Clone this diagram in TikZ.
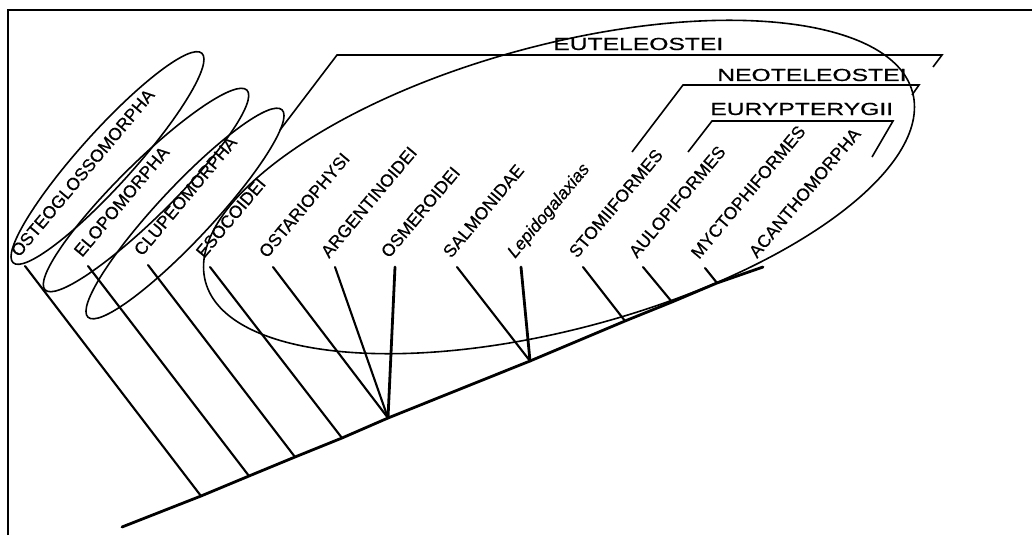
\documentclass[tikz,border=0pt]{standalone}
\usepackage{fontspec}
\setmainfont{Liberation Sans}[FakeBold=0.5]
\usepackage{tikz}
\usetikzlibrary{calc}

\begin{document}
\begin{tikzpicture}[x=1pt,y=-1pt]
    \useasboundingbox (0,0) rectangle (1032,535);

    \tikzstyle{branch} = [line width=2.1pt, line cap=round]
    \tikzstyle{thick branch} = [line width=2.8pt, line cap=round]
    \tikzstyle{ring} = [line width=1.6pt]
    \tikzstyle{bracket} = [line width=1.6pt, line join=miter]
    \tikzstyle{taxon} = [rotate=50, anchor=base west, inner sep=0pt, font=\fontsize{17.5}{20}\selectfont]
    \tikzstyle{clade} = [anchor=base west, inner sep=0pt, xscale=1.41, font=\fontsize{17.5}{20}\selectfont]

    % frame
    \draw[line width=2.2pt] (8,535) -- (8,10) -- (1032,10);

    % tips
    \coordinate (t1) at (25,266);
    \coordinate (t2) at (88,266);
    \coordinate (t3) at (148,265);
    \coordinate (t4) at (210,267);
    \coordinate (t5) at (273,267);
    \coordinate (t6) at (335,267);
    \coordinate (t7) at (395,267);
    \coordinate (t8) at (457,267);
    \coordinate (t9) at (521,267);
    \coordinate (t10) at (583,267);
    \coordinate (t11) at (643,267);
    \coordinate (t12) at (705,268);

    % backbone
    \coordinate (root) at (122,527);
    \coordinate (j1) at (201,496);
    \coordinate (j2) at (249,476);
    \coordinate (j3) at (295,457);
    \coordinate (j4) at (342,438);
    \coordinate (j5) at (388,418);
    \coordinate (j6) at (530,361);
    \coordinate (j7) at (625,321);
    \coordinate (j8) at (672,302);
    \coordinate (j9) at (717,283);
    \coordinate (t13) at (763,267);

    \draw[thick branch] (root) -- (j1) -- (j2) -- (j3) -- (j4) -- (j5) -- (j6) -- (j7) -- (j8) -- (j9) -- (t13);

    \foreach \a/\b in {t1/j1, t2/j2, t3/j3, t4/j4, t5/j5, t6/j5, t8/j6, t10/j7, t11/j8, t12/j9} {
        \draw[branch] (\a) -- (\b);
    }
    \draw[thick branch] (t7) -- (j5);
    \draw[thick branch] (t9) -- (j6);

    \foreach \i/\name in {1/OSTEOGLOSSOMORPHA, 2/ELOPOMORPHA, 3/CLUPEOMORPHA, 4/ESOCOIDEI,
        5/OSTARIOPHYSI, 6/ARGENTINOIDEI, 7/OSMEROIDEI, 8/SALMONIDAE, 9/{\itshape Lepidogalaxias},
        10/STOMIIFORMES, 11/AULOPIFORMES, 12/MYCTOPHIFORMES, 13/ACANTHOMORPHA} {
        \node[taxon] (l\i) at ($(t\i)+(-6,-8)$) {\name};
    }

    % groups
    \draw[ring, rotate around={48:(107.5,158)}] (107.5,158) ellipse (141 and 27);
    \draw[ring, rotate around={44.7:(146,190)}] (146,190) ellipse (142 and 27);
    \draw[ring, rotate around={46.9:(185,213.5)}] (185,213.5) ellipse (142 and 27);
    \draw[ring, rotate around={15:(559,187)}] (559,187) ellipse (366 and 142);

    \coordinate (eu1) at (280,130);
    \coordinate (eu2) at (337,55);
    \coordinate (eu3) at (942,55);
    \coordinate (eu4) at (933,67);
    \draw[bracket] (eu1) -- (eu2) -- (eu3) -- (eu4);
    \node[clade] (eu) at (553,50) {EUTELEOSTEI};

    \coordinate (neo1) at (632,152);
    \coordinate (neo2) at (683,85);
    \coordinate (neo3) at (919,85);
    \coordinate (neo4) at (912,95);
    \draw[bracket] (neo1) -- (neo2) -- (neo3) -- (neo4);
    \node[clade] (neo) at (717,81) {NEOTELEOSTEI};

    \coordinate (ey1) at (688,152);
    \coordinate (ey2) at (712,121);
    \coordinate (ey3) at (893,121);
    \coordinate (ey4) at (872,157);
    \draw[bracket] (ey1) -- (ey2) -- (ey3) -- (ey4);
    \node[clade] (eury) at (710,115) {EURYPTERYGII};
\end{tikzpicture}
\end{document}
